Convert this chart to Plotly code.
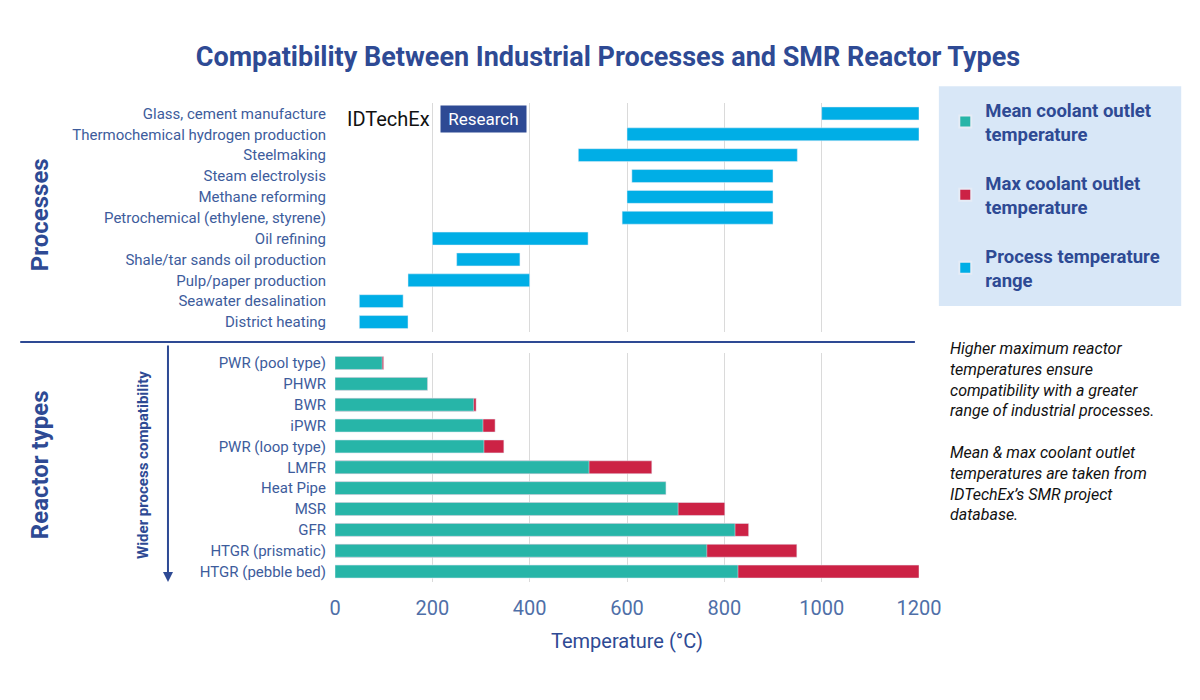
import plotly.graph_objects as go
from plotly.subplots import make_subplots

FONT = 'Roboto, sans-serif'
NAVY = '#2E4A94'
LABEL = '#3D5C9C'
TEAL = '#27B5A8'
RED = '#CC2245'
BLUE = '#00AEE6'
GRID = '#DADADA'

PROCESSES = ['Glass, cement manufacture', 'Thermochemical hydrogen production', 'Steelmaking',
             'Steam electrolysis', 'Methane reforming', 'Petrochemical (ethylene, styrene)',
             'Oil refining', 'Shale/tar sands oil production', 'Pulp/paper production',
             'Seawater desalination', 'District heating']
PROC_MIN = [1000, 600, 500, 610, 600, 590, 200, 250, 150, 50, 50]
PROC_MAX = [1200, 1200, 950, 900, 900, 900, 520, 380, 400, 140, 150]

REACTORS = ['PWR (pool type)', 'PHWR', 'BWR', 'iPWR', 'PWR (loop type)', 'LMFR', 'Heat Pipe',
            'MSR', 'GFR', 'HTGR (prismatic)', 'HTGR (pebble bed)']
MEAN_T = [97, 190, 285, 304, 306, 522, 680, 705, 822, 764, 828]
MAX_T = [100, 190, 290, 329, 347, 651, 680, 801, 850, 949, 1200]

fig = make_subplots(rows=2, cols=1, shared_xaxes=True, vertical_spacing=0.042,
                    row_heights=[0.5, 0.5])

fig.add_trace(go.Bar(y=PROCESSES, base=PROC_MIN, x=[b - a for a, b in zip(PROC_MIN, PROC_MAX)],
                     orientation='h', marker_color=BLUE, width=0.62, showlegend=False), 1, 1)
fig.add_trace(go.Bar(y=REACTORS, x=MAX_T, orientation='h', marker_color=RED, width=0.62,
                     name='<b>Max coolant outlet<br>temperature</b>', legendrank=2,
                     legendgroup='b'), 2, 1)
fig.add_trace(go.Bar(y=REACTORS, x=MEAN_T, orientation='h', marker_color=TEAL, width=0.62,
                     name='<b>Mean coolant outlet<br>temperature</b>', legendrank=1,
                     legendgroup='a'), 2, 1)
# legend-only entry for process colour
fig.add_trace(go.Bar(y=[None], x=[None], orientation='h', marker_color=BLUE,
                     name='<b>Process temperature<br>range</b>', legendrank=3,
                     legendgroup='c'), 2, 1)

fig.update_layout(
    width=1200, height=700, barmode='overlay',
    margin=dict(l=327, r=289, t=95, b=126),
    paper_bgcolor='white', plot_bgcolor='white',
    font=dict(family=FONT, color=LABEL),
    title=dict(text='<b>Compatibility Between Industrial Processes and SMR Reactor Types</b>',
               x=0.5, y=0.93, xanchor='center', yanchor='middle', font=dict(size=27, color=NAVY)),
    legend=dict(x=1.045, y=1.025, xanchor='left', yanchor='top', bgcolor='rgba(0,0,0,0)',
                font=dict(size=18.5, color=NAVY, family=FONT), itemsizing='constant',
                tracegroupgap=22, traceorder='grouped', itemwidth=30),
)
for r in (1, 2):
    fig.update_xaxes(range=[0, 1200], dtick=200, gridcolor=GRID, showline=False,
                     zeroline=False, row=r, col=1)
    fig.update_yaxes(autorange='reversed', tickfont=dict(size=15, color=LABEL),
                     ticks='', ticklabelstandoff=8, row=r, col=1)
fig.update_xaxes(tickfont=dict(size=20, color='#4F6FA8'), ticklabelstandoff=12, row=2, col=1)
fig.update_xaxes(title=dict(text='Temperature (°C)', font=dict(size=20, color=NAVY), standoff=14),
                 row=2, col=1)

# legend box
fig.add_shape(type='rect', xref='paper', yref='paper', x0=1.034, x1=1.449, y0=0.576, y1=1.035,
              fillcolor='#D8E7F7', line_width=0, layer='below')
# separator line
fig.add_shape(type='line', xref='paper', yref='paper', x0=-0.539, x1=0.993, y0=0.501, y1=0.501,
              line=dict(color=NAVY, width=2))
# vertical arrow
fig.add_annotation(xref='paper', yref='paper', x=-0.286, y=0.0, ax=0, ay=-238,
                   showarrow=True, arrowhead=2, arrowsize=1,
                   arrowwidth=2, arrowcolor=NAVY, text='')
fig.add_annotation(xref='paper', yref='paper', x=-0.329, y=0.244, xanchor='center', yanchor='middle',
                   text='<b>Wider process compatibility</b>',
                   textangle=-90, showarrow=False, font=dict(size=15, color=NAVY))
fig.add_annotation(xref='paper', yref='paper', x=-0.505, y=0.766, xanchor='center', yanchor='middle',
                   text='<b>Processes</b>',
                   textangle=-90, showarrow=False, font=dict(size=24, color=NAVY))
fig.add_annotation(xref='paper', yref='paper', x=-0.505, y=0.244, xanchor='center', yanchor='middle',
                   text='<b>Reactor types</b>',
                   textangle=-90, showarrow=False, font=dict(size=24, color=NAVY))
# logo
fig.add_annotation(xref='paper', yref='paper', x=0.017, y=0.967, xanchor='left', yanchor='middle',
                   text='IDTechEx', showarrow=False, font=dict(size=20, color='#111111'))
fig.add_annotation(xref='paper', yref='paper', x=0.18, y=0.967, xanchor='left', yanchor='middle',
                   text=' Research ', showarrow=False, bgcolor='#2E4A94', borderpad=3,
                   font=dict(size=17, color='white'))
# note
fig.add_annotation(xref='paper', yref='paper', x=1.05, y=0.511, xanchor='left', yanchor='top',
                   align='left', showarrow=False, font=dict(size=16, color='#111111'),
                   text='<i>Higher maximum reactor<br>temperatures ensure<br>compatibility with a greater<br>'
                        'range of industrial processes.<br><br>Mean &amp; max coolant outlet<br>'
                        'temperatures are taken from<br>IDTechEx’s SMR project<br>database.</i>')

fig.write_html('out.html')
